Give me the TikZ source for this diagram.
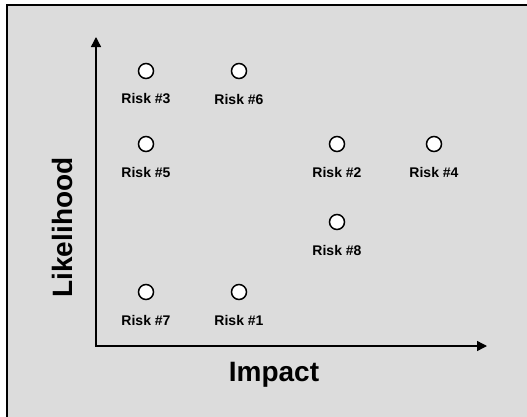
\documentclass[tikz,border=0pt]{standalone}
\usepackage{fontspec}
\setmainfont{Liberation Sans}
\usetikzlibrary{arrows.meta}
\definecolor{panelgray}{RGB}{220,220,220}
\tikzset{
  risk/.style={circle,draw=black,fill=white,line width=1.5pt,inner sep=0pt,minimum size=15pt},
  risktext/.style={inner sep=0pt,font=\fontsize{14}{16}\selectfont\bfseries},
  axis/.style={line width=1.4pt,{Triangle[length=10pt,width=10pt]}-{Triangle[length=10pt,width=10pt]}},
  axistext/.style={inner sep=0pt,font=\fontsize{28}{34}\selectfont\bfseries}
}

\begin{document}
\begin{tikzpicture}[x=1pt,y=-1pt]
  \useasboundingbox (0,0) rectangle (527,416);
  \fill[white] (0,0) rectangle (527,416);
  \draw[fill=panelgray,line width=1.8pt] (7,5) rectangle (540,430);

  % axes
  \coordinate (ytop) at (96,37);
  \coordinate (origin) at (96,346);
  \coordinate (xend) at (487,346);
  \draw[axis] (ytop) -- (origin) -- (xend);
  \node[axistext,anchor=base] (impact) at (274,381.5) {Impact};
  \node[axistext,anchor=base,rotate=90] (likelihood) at (72,227.5) {Likelihood};

  % risks
  \node[risk] (r3) at (146,71) {};
  \node[risk] (r6) at (239,71) {};
  \node[risk] (r5) at (146,144) {};
  \node[risk] (r2) at (337,144) {};
  \node[risk] (r4) at (434,144) {};
  \node[risk] (r8) at (337,222) {};
  \node[risk] (r7) at (146,292) {};
  \node[risk] (r1) at (239,292) {};

  % risk names
  \node[risktext] (l3) at ([yshift=-28pt]r3.center) {Risk \#3};
  \node[risktext] (l6) at ([yshift=-28pt]r6.center) {Risk \#6};
  \node[risktext] (l5) at ([yshift=-28pt]r5.center) {Risk \#5};
  \node[risktext] (l2) at ([yshift=-28pt]r2.center) {Risk \#2};
  \node[risktext] (l4) at ([yshift=-28pt]r4.center) {Risk \#4};
  \node[risktext] (l8) at ([yshift=-28pt]r8.center) {Risk \#8};
  \node[risktext] (l7) at ([yshift=-28pt]r7.center) {Risk \#7};
  \node[risktext] (l1) at ([yshift=-28pt]r1.center) {Risk \#1};
\end{tikzpicture}
\end{document}
